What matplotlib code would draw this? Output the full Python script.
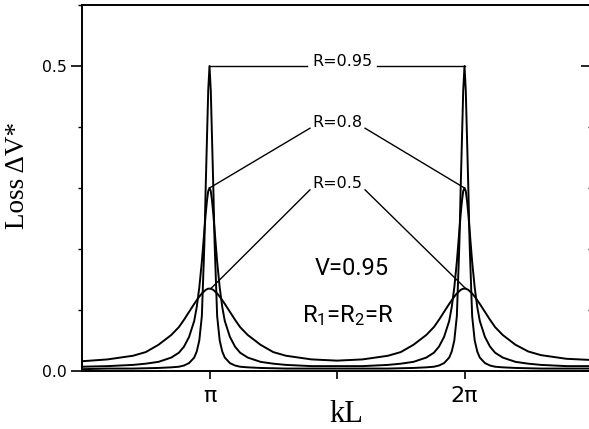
import matplotlib
matplotlib.use('Agg')
import matplotlib.pyplot as plt
from matplotlib.ticker import MultipleLocator

plt.rcParams['mathtext.fontset'] = 'custom'
plt.rcParams['mathtext.rm'] = 'Roboto'
plt.rcParams['mathtext.it'] = 'Roboto'
plt.rcParams['mathtext.default'] = 'rm'

# ---- data (kL in units of pi) ----
kL_over_pi = [0.50, 0.60, 0.70, 0.75, 0.80, 0.85, 0.88, 0.90, 0.92, 0.94, 0.95, 0.96, 0.97, 0.98, 0.985, 0.99, 0.995,
              1.00, 1.005, 1.01, 1.015, 1.02, 1.03, 1.04, 1.05, 1.06, 1.08, 1.10, 1.12, 1.15, 1.20, 1.25, 1.30, 1.40,
              1.50, 1.60, 1.70, 1.75, 1.80, 1.85, 1.88, 1.90, 1.92, 1.94, 1.95, 1.96, 1.97, 1.98, 1.985, 1.99, 1.995,
              2.00, 2.005, 2.01, 2.015, 2.02, 2.03, 2.04, 2.05, 2.06, 2.08, 2.10, 2.12, 2.15, 2.20, 2.25, 2.30, 2.40,
              2.50]

loss_R050 = [0.016, 0.019, 0.025, 0.031, 0.043, 0.059, 0.072, 0.084, 0.097, 0.110, 0.116, 0.122, 0.127, 0.131, 0.133, 0.134, 0.135,
             0.135, 0.135, 0.134, 0.133, 0.131, 0.127, 0.122, 0.116, 0.110, 0.097, 0.084, 0.072, 0.059, 0.043, 0.031, 0.025, 0.019,
             0.017, 0.019, 0.025, 0.031, 0.043, 0.059, 0.072, 0.084, 0.097, 0.110, 0.116, 0.122, 0.127, 0.131, 0.133, 0.134, 0.135,
             0.135, 0.135, 0.134, 0.133, 0.131, 0.127, 0.122, 0.116, 0.110, 0.097, 0.084, 0.072, 0.059, 0.043, 0.032, 0.026, 0.020,
             0.018]

loss_R080 = [0.007, 0.008, 0.010, 0.012, 0.015, 0.022, 0.030, 0.040, 0.056, 0.082, 0.105, 0.137, 0.179, 0.231, 0.257, 0.279, 0.295,
             0.300, 0.295, 0.279, 0.257, 0.231, 0.179, 0.137, 0.105, 0.082, 0.056, 0.040, 0.030, 0.022, 0.015, 0.012, 0.010, 0.008,
             0.008, 0.008, 0.010, 0.012, 0.015, 0.022, 0.030, 0.040, 0.056, 0.082, 0.105, 0.137, 0.179, 0.231, 0.257, 0.279, 0.295,
             0.300, 0.295, 0.279, 0.257, 0.231, 0.179, 0.137, 0.105, 0.082, 0.056, 0.040, 0.030, 0.022, 0.015, 0.012, 0.010, 0.008,
             0.008]

loss_R095 = [0.003, 0.004, 0.004, 0.0045, 0.005, 0.006, 0.007, 0.009, 0.013, 0.022, 0.032, 0.050, 0.090, 0.210, 0.300, 0.380, 0.460,
             0.500, 0.460, 0.380, 0.300, 0.210, 0.090, 0.050, 0.032, 0.022, 0.013, 0.009, 0.007, 0.006, 0.005, 0.0045, 0.004, 0.004,
             0.004, 0.004, 0.004, 0.0045, 0.005, 0.006, 0.007, 0.009, 0.013, 0.022, 0.032, 0.050, 0.090, 0.210, 0.300, 0.380, 0.460,
             0.500, 0.460, 0.380, 0.300, 0.210, 0.090, 0.050, 0.032, 0.022, 0.013, 0.009, 0.007, 0.006, 0.005, 0.0045, 0.004, 0.004,
             0.004]

curve_labels = ['R=0.95', 'R=0.8', 'R=0.5']
x_tick_values = [1.0, 1.5, 2.0]
x_tick_labels = ['π', '', '2π']
y_tick_values = [0.0, 0.5]
y_tick_labels = ['0.0', '0.5']

# ---- figure ----
W, H = 589, 429
fig = plt.figure(figsize=(W / 100, H / 100), dpi=100)
ax = fig.add_axes([82 / W, 58 / H, 510 / W, 366 / H])
ax.set_xlim(0.5, 2.5)
ax.set_ylim(0.0, 0.6)

for ys in (loss_R050, loss_R080, loss_R095):
    ax.plot(kL_over_pi, ys, color='black', lw=1.4, solid_joinstyle='round')

for s in ax.spines.values():
    s.set_linewidth(1.4)

ax.set_xticks(x_tick_values)
ax.set_xticklabels(x_tick_labels, family='DejaVu Sans', fontsize=16)
ax.tick_params(axis='x', direction='out', length=6, width=1.2, pad=5)
ax.set_yticks(y_tick_values)
ax.set_yticklabels(y_tick_labels, family='DejaVu Sans', fontsize=11.3)
ax.yaxis.set_minor_locator(MultipleLocator(0.1))
ax.tick_params(axis='y', which='major', direction='out', length=8, width=1.2, pad=3)
ax.tick_params(axis='y', which='minor', direction='out', length=3, width=1.0)

rax = ax.twinx()
rax.set_ylim(ax.get_ylim())
rax.set_yticks(y_tick_values)
rax.yaxis.set_minor_locator(MultipleLocator(0.1))
rax.tick_params(axis='y', which='major', direction='in', length=8, width=1.2, labelright=False)
rax.tick_params(axis='y', which='minor', direction='in', length=3, width=1.0)
for s in rax.spines.values():
    s.set_visible(False)

# ---- annotations ----
def peak(xs, ys, centre):
    best = max((y, x) for x, y in zip(xs, ys) if abs(x - centre) < 0.25)
    return best[1], best[0]

lab_kw = dict(ha='center', va='center', family='DejaVu Sans', fontsize=11.5)
ann_lw = 1.0

# R=0.95
p1 = peak(kL_over_pi, loss_R095, 1.0)
p2 = peak(kL_over_pi, loss_R095, 2.0)
ax.text(1.52, 0.508, curve_labels[0], **lab_kw)
ax.plot([p1[0], 1.382], [p1[1], p1[1]], color='black', lw=ann_lw)
ax.plot([1.657, p2[0]], [p2[1], p2[1]], color='black', lw=ann_lw)

# R=0.8
p1 = peak(kL_over_pi, loss_R080, 1.0)
p2 = peak(kL_over_pi, loss_R080, 2.0)
ax.text(1.502, 0.408, curve_labels[1], **lab_kw)
ax.plot([p1[0], 1.394], [p1[1], 0.398], color='black', lw=ann_lw)
ax.plot([1.61, p2[0]], [0.398, p2[1]], color='black', lw=ann_lw)

# R=0.5
p1 = peak(kL_over_pi, loss_R050, 1.0)
p2 = peak(kL_over_pi, loss_R050, 2.0)
ax.text(1.50, 0.308, curve_labels[2], **lab_kw)
ax.plot([p1[0], 1.394], [p1[1], 0.297], color='black', lw=ann_lw)
ax.plot([1.61, p2[0]], [0.297, p2[1]], color='black', lw=ann_lw)

cond = ['Roboto', 'DejaVu Sans']
ax.text(1.559, 0.157, 'V=0.95', ha='center', va='baseline', family=cond, fontsize=17)
ax.text(1.543, 0.080, r'R$_1$=R$_2$=R', ha='center', va='baseline', family=cond, fontsize=17)

fig.text(18 / W, 1 - 175 / H, 'Loss ΔV*', rotation=90, ha='center', va='center',
         family=['Liberation Serif', 'DejaVu Serif'], fontsize=19.5)
fig.text(346 / W, 1 - 414 / H, 'kL', ha='center', va='center',
         family=['Liberation Serif', 'DejaVu Serif'], fontsize=22)

fig.savefig('out.png', dpi=100)
